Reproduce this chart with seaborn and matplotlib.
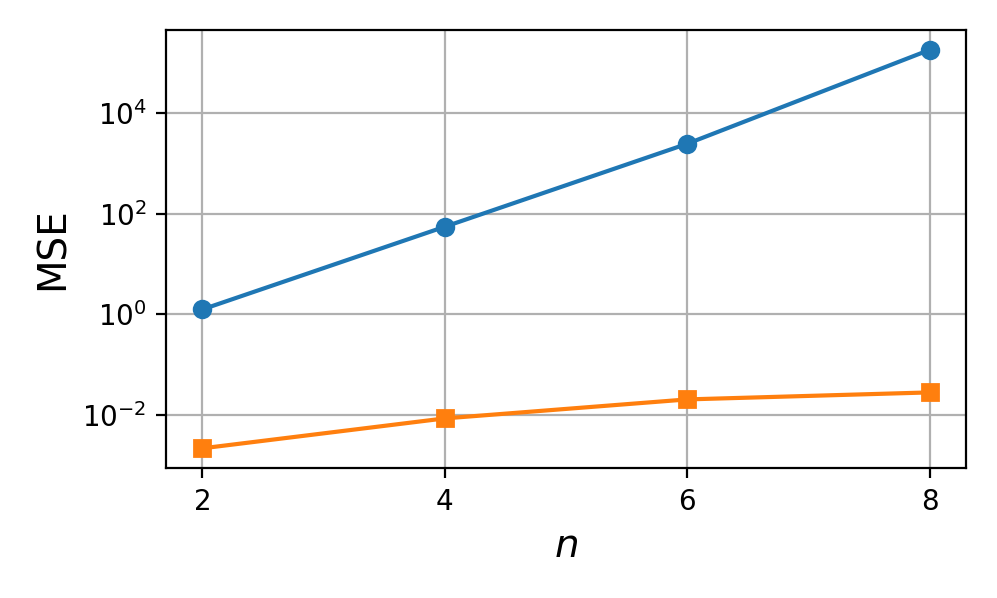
import matplotlib
matplotlib.use("Agg")
import matplotlib.pyplot as plt
import seaborn as sns
import pandas as pd

n_values = [2, 4, 6, 8]
mse_a = [1.26, 55.0, 2430.0, 1.77e5]
mse_b = [0.00222, 0.0087, 0.0207, 0.0285]

sns.set_style("ticks")
plt.rcParams['font.family'] = ['DejaVu Sans']
plt.rcParams.update({"text.color": "black", "axes.labelcolor": "black",
                     "xtick.color": "black", "ytick.color": "black"})

fig, ax = plt.subplots(figsize=(4.985, 2.99), dpi=200)
fig.subplots_adjust(left=0.1665, right=0.969, top=0.95, bottom=0.217)

sns.lineplot(x=n_values, y=mse_a, ax=ax, color="#1f77b4", marker="o",
             markersize=6, markeredgewidth=1, markeredgecolor="#1f77b4", linewidth=1.5)
sns.lineplot(x=n_values, y=mse_b, ax=ax, color="#ff7f0e", marker="s",
             markersize=6, markeredgewidth=1, markeredgecolor="#ff7f0e", linewidth=1.5)

ax.set_yscale("log")
ax.set_xticks(n_values)
ax.grid(True, color="#b0b0b0", linewidth=0.8)
ax.set_axisbelow(True)
for s in ax.spines.values():
    s.set_visible(True)
    s.set_color("black")
    s.set_linewidth(0.8)
ax.tick_params(axis="both", labelsize=10, direction="out", length=3.5, width=0.8,
               color="black", labelcolor="black")
ax.set_xlabel("$n$", fontsize=14, color="black")
ax.set_ylabel("MSE", fontsize=14, color="black")

fig.savefig("out.png", dpi=200)
